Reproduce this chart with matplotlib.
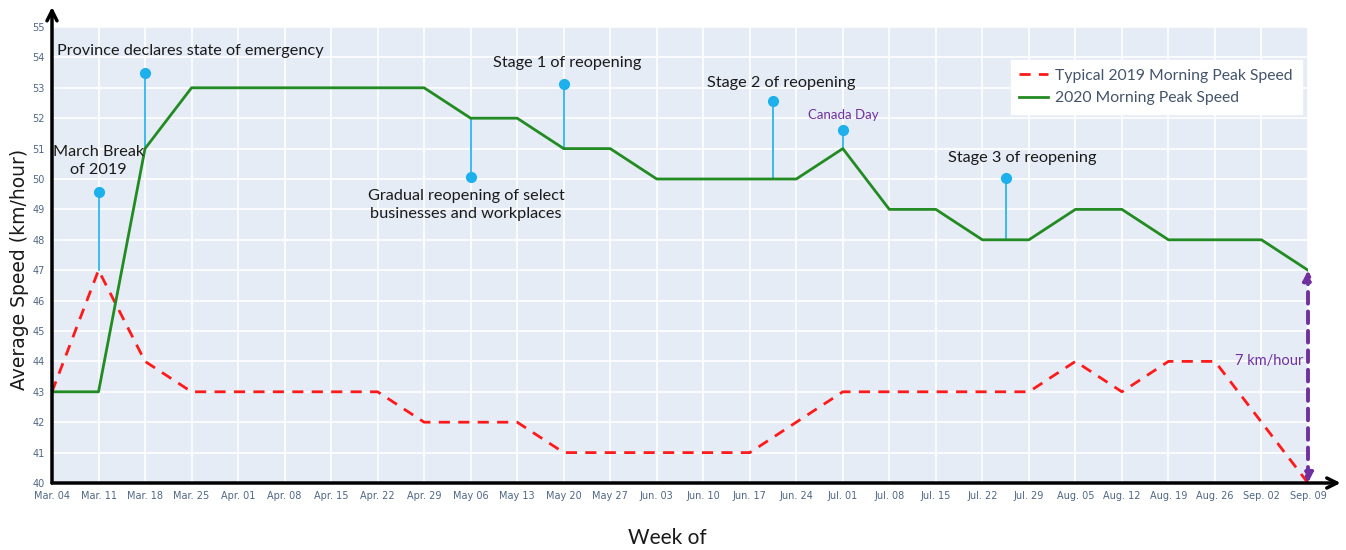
import matplotlib.pyplot as plt

weeks = ["Mar. 04", "Mar. 11", "Mar. 18", "Mar. 25", "Apr. 01", "Apr. 08", "Apr. 15",
         "Apr. 22", "Apr. 29", "May 06", "May 13", "May 20", "May 27", "Jun. 03",
         "Jun. 10", "Jun. 17", "Jun. 24", "Jul. 01", "Jul. 08", "Jul. 15", "Jul. 22",
         "Jul. 29", "Aug. 05", "Aug. 12", "Aug. 19", "Aug. 26", "Sep. 02", "Sep. 09"]

speed_2019 = [43, 47, 44, 43, 43, 43, 43, 43, 42, 42, 42, 41, 41, 41,
              41, 41, 42, 43, 43, 43, 43, 43, 44, 43, 44, 44, 42, 40]
speed_2020 = [43, 43, 51, 53, 53, 53, 53, 53, 53, 52, 52, 51, 51, 50,
              50, 50, 50, 51, 49, 49, 48, 48, 49, 49, 48, 48, 48, 47]

# events: week position (index), speed at base of stem, speed at dot
event_x = [1, 2, 9, 11, 15.5, 17, 20.5]
event_base = [47, 51, 52, 51, 50, 51, 48]
event_tip = [49.57, 53.5, 50.07, 53.13, 52.57, 51.6, 50.02]

gap_x = 27
gap_low, gap_high = 40, 47

narrow = ["Lato", "DejaVu Sans"]

fig = plt.figure(figsize=(13.46, 5.5), dpi=100)
ax = fig.add_axes([52 / 1346, 67 / 550, 1256 / 1346, 456 / 550])
ax.set_facecolor("#E5ECF6")

x = list(range(len(weeks)))
ax.plot(x, speed_2019, color="#FF1A1A", lw=2, ls=(0, (4, 3)),
        label="Typical 2019 Morning Peak Speed", zorder=3)
ax.plot(x, speed_2020, color="#228B22", lw=2,
        label="2020 Morning Peak Speed", zorder=3)

for ex, b, t in zip(event_x, event_base, event_tip):
    ax.plot([ex, ex], [b, t], color="#1CB0EC", lw=1.2, zorder=2)
    ax.plot(ex, t, "o", color="#1CB0EC", ms=7, zorder=4)

# 7 km/hour gap arrow
ax.annotate("", xy=(gap_x, gap_high), xytext=(gap_x, gap_low),
            arrowprops=dict(arrowstyle="<|-|>", color="#7030A0", lw=2.8,
                            ls=(0, (3, 2)), mutation_scale=14,
                            shrinkA=0, shrinkB=0), zorder=5)
ax.text(26.9, 44, "7 km/hour", color="#7030A0", ha="right", va="center",
        fontsize=10.5, family=narrow)

tk = dict(fontsize=11.7, family=narrow, color="#1a1a1a")
ax.text(1, 50.6, "March Break\nof 2019", ha="center", va="center", linespacing=1.35, **tk)
ax.text(0.1, 54.2, "Province declares state of emergency", ha="left", va="center", **tk)
ax.text(8.9, 49.15, "Gradual reopening of select\nbusinesses and workplaces",
        ha="center", va="center", linespacing=1.35, **tk)
ax.text(11.08, 53.8, "Stage 1 of reopening", ha="center", va="center", **tk)
ax.text(15.68, 53.16, "Stage 2 of reopening", ha="center", va="center", **tk)
ax.text(17.02, 52.1, "Canada Day", ha="center", va="center", color="#7030A0",
        fontsize=9.5, family=narrow)
ax.text(20.86, 50.7, "Stage 3 of reopening", ha="center", va="center", **tk)

ax.set_xlim(0, len(weeks) - 1)
ax.set_ylim(40, 55)
ax.set_xticks(x)
ax.set_xticklabels(weeks)
ax.set_yticks(range(40, 56))
ax.tick_params(length=0, labelsize=7, labelcolor="#506784")
ax.tick_params(axis="x", pad=6)
ax.tick_params(axis="y", pad=5)
ax.grid(color="white", lw=1.2)
ax.set_axisbelow(True)
for s in ax.spines.values():
    s.set_visible(False)

# axis arrows
ax.annotate("", xy=(1.026, 0), xytext=(0, 0), xycoords="axes fraction",
            arrowprops=dict(arrowstyle="->", color="black", lw=2.5,
                            mutation_scale=18, shrinkA=0, shrinkB=0))
ax.annotate("", xy=(0, 1.044), xytext=(0, 0), xycoords="axes fraction",
            arrowprops=dict(arrowstyle="->", color="black", lw=2.5,
                            mutation_scale=18, shrinkA=0, shrinkB=0))

leg = ax.legend(loc="upper left", bbox_to_anchor=(0.757, 0.945), frameon=True,
                fancybox=False, framealpha=1, edgecolor="white",
                prop=dict(family=narrow, size=11.3), handlelength=1.8,
                handletextpad=0.5, borderpad=0.55, labelspacing=0.55)
for t in leg.get_texts():
    t.set_color("#44546A")

fig.text(20 / 1346, 0.51, "Average Speed (km/hour)", rotation=90, ha="center",
         va="center", fontsize=13.5, color="#1a1a1a")
fig.text(667 / 1346, 12 / 550, "Week of", ha="center", va="center",
         fontsize=15, family=narrow, color="#1a1a1a")

fig.savefig("out.png", dpi=100)
